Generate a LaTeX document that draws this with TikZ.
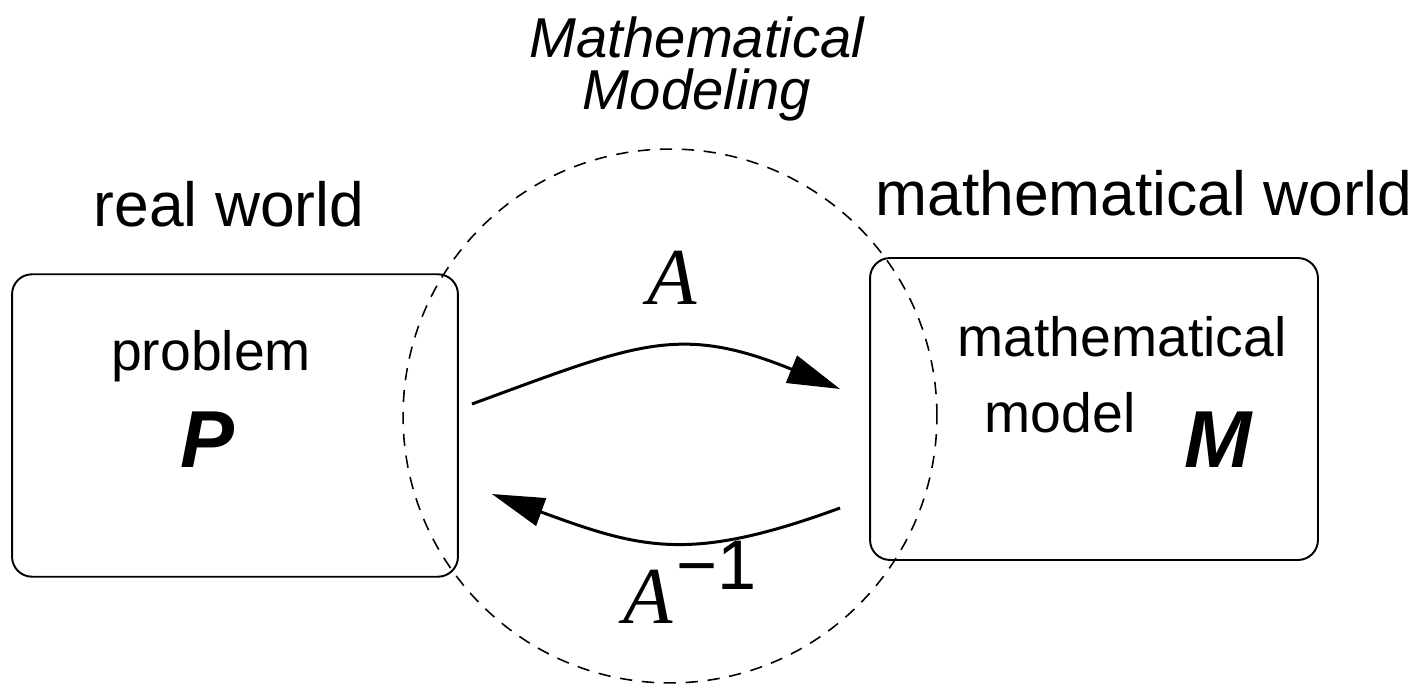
\documentclass[tikz,border=0pt]{standalone}
\usepackage{fontspec}
\setmainfont{Liberation Sans}
\newfontfamily\serifface{Liberation Serif}
\usetikzlibrary{arrows.meta}

\begin{document}
\begin{tikzpicture}[
			x=0.02cm, y=-0.02cm,
			every node/.style={inner sep=0pt, outer sep=0pt},
			world/.style={rectangle, draw, line width=1.1pt, rounded corners=0.4cm, minimum width=8.92cm, minimum height=6.05cm},
			heading/.style={font=\fontsize{35.5}{40}\selectfont, anchor=base},
			boxtext/.style={font=\fontsize{31.5}{36}\selectfont, anchor=base},
			symb/.style={font=\fontsize{46}{50}\selectfont\bfseries\itshape, anchor=base},
			op/.style={font=\fontsize{46}{50}\selectfont\serifface\itshape, anchor=base},
			maparrow/.style={-{Triangle[length=1.05cm, width=0.58cm]}, line width=1.7pt}
			]
			
			\useasboundingbox (0,0) rectangle (1427,689);
			
			\node[world] (realbox) at (235,425.5) {};
			\node[world, minimum width=8.96cm, minimum height=6.04cm] (mathbox) at (1094,409) {};
			\node[circle, draw, line width=0.9pt, dash pattern=on 7pt off 5.5pt, minimum size=10.68cm] (modeling) at (670,416) {};
			
			\node[heading] (realtitle) at (229,227) {real world};
			\node[heading] (mathtitle) at (1144,216) {mathematical world};
			\node[font=\fontsize{32}{30}\selectfont\itshape, align=center] (modtitle) at (697,69) {Mathematical\\Modeling};
			
			\node[boxtext] (problem) at (211,370) {problem};
			\node[symb] (P) at (207,467) {P};
			\node[boxtext] (mathword) at (1122,357) {mathematical};
			\node[boxtext] (model) at (1060,432) {model};
			\node[symb] (M) at (1218,467) {M};
			
			\node[op] (fwd) at (672,305) {A};
			\node[op] (inv) at (690,623) {A\kern2pt\raisebox{19pt}{\normalfont\fontsize{40}{44}\selectfont −1}};
			
			\draw[maparrow] ([shift={(14,-21.5)}]realbox.east) .. controls +(164,-60) and +(-162,-66) .. ([shift={(-30,-20)}]mathbox.west);
			\draw[maparrow] ([shift={(-30,99)}]mathbox.west) .. controls +(-150,55) and +(150,55) .. ([shift={(34,68.5)}]realbox.east);
		\end{tikzpicture}
\end{document}
